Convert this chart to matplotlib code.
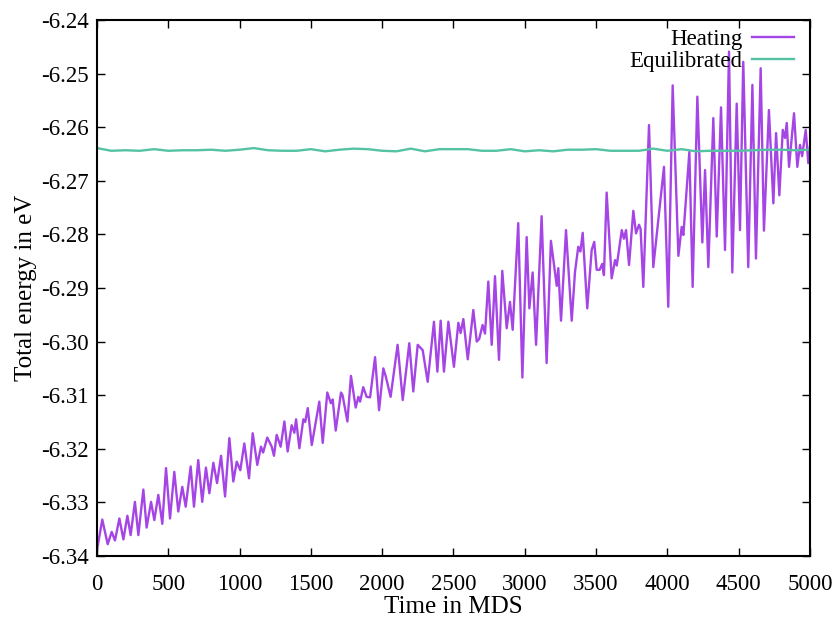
import matplotlib
matplotlib.use("Agg")
import matplotlib.pyplot as plt
from matplotlib.ticker import FormatStrFormatter, MultipleLocator

plt.rcParams['font.family'] = ['Liberation Serif', 'DejaVu Serif']
plt.rcParams['axes.unicode_minus'] = False

heat_t = [0, 37, 75, 103, 126, 157, 185, 213, 236, 266, 290, 325, 348, 379, 402, 430, 458, 484, 512, 542,
          570, 598, 622, 657, 680, 710, 738, 764, 788, 816, 842, 870, 898, 928, 956, 980, 1005, 1033, 1066, 1092,
          1124, 1150, 1165, 1194, 1225, 1241, 1260, 1288, 1314, 1337, 1365, 1384, 1396, 1419, 1447, 1460, 1478, 1506, 1559, 1583,
          1615, 1640, 1653, 1674, 1711, 1722, 1756, 1781, 1814, 1833, 1845, 1867, 1891, 1915, 1950, 1978, 2008, 2025, 2059, 2108,
          2144, 2190, 2218, 2249, 2284, 2319, 2363, 2387, 2410, 2433, 2464, 2503, 2534, 2550, 2569, 2600, 2639, 2663, 2680, 2704,
          2721, 2744, 2768, 2791, 2819, 2842, 2873, 2896, 2915, 2954, 2983, 3013, 3032, 3055, 3079, 3118, 3153, 3183, 3224, 3235,
          3254, 3289, 3329, 3352, 3375, 3390, 3406, 3438, 3469, 3487, 3504, 3525, 3543, 3555, 3574, 3609, 3633, 3645, 3680, 3695,
          3710, 3731, 3761, 3780, 3801, 3812, 3831, 3871, 3901, 3976, 4006, 4037, 4077, 4100, 4112, 4154, 4177, 4210, 4245, 4264,
          4287, 4322, 4346, 4376, 4404, 4432, 4455, 4486, 4509, 4532, 4567, 4596, 4621, 4654, 4677, 4712, 4743, 4762, 4785, 4809,
          4825, 4837, 4853, 4888, 4911, 4930, 4945, 4970, 4988, 5000]
heat_v = [-6.3389, -6.3332, -6.3378, -6.3355, -6.3371, -6.3330, -6.3369, -6.3325, -6.3361, -6.3299, -6.3361, -6.3276, -6.3347, -6.3299, -6.3333, -6.3286, -6.3340, -6.3236, -6.3330, -6.3243,
          -6.3317, -6.3271, -6.3308, -6.3233, -6.3308, -6.3221, -6.3299, -6.3235, -6.3283, -6.3226, -6.3264, -6.3213, -6.3289, -6.3180, -6.3261, -6.3224, -6.3240, -6.3190, -6.3255, -6.3171,
          -6.3230, -6.3196, -6.3207, -6.3179, -6.3196, -6.3213, -6.3174, -6.3196, -6.3149, -6.3205, -6.3156, -6.3170, -6.3145, -6.3199, -6.3145, -6.3150, -6.3124, -6.3193, -6.3112, -6.3189,
          -6.3095, -6.3115, -6.3108, -6.3166, -6.3095, -6.3100, -6.3149, -6.3064, -6.3123, -6.3103, -6.3112, -6.3085, -6.3103, -6.3104, -6.3029, -6.3128, -6.3050, -6.3065, -6.3103, -6.3006,
          -6.3109, -6.3003, -6.3093, -6.3006, -6.3016, -6.3075, -6.2963, -6.3056, -6.2961, -6.3056, -6.2963, -6.3047, -6.2965, -6.2984, -6.2958, -6.3033, -6.2941, -6.3000, -6.2995, -6.2969,
          -6.2985, -6.2888, -6.3006, -6.2878, -6.3034, -6.2868, -6.2975, -6.2926, -6.2978, -6.2779, -6.3067, -6.2805, -6.2938, -6.2871, -6.3006, -6.2766, -6.3040, -6.2812, -6.2896, -6.2863,
          -6.2961, -6.2792, -6.2961, -6.2870, -6.2823, -6.2832, -6.2797, -6.2938, -6.2829, -6.2814, -6.2866, -6.2866, -6.2855, -6.2876, -6.2722, -6.2882, -6.2848, -6.2858, -6.2792, -6.2808,
          -6.2792, -6.2857, -6.2756, -6.2798, -6.2782, -6.2790, -6.2898, -6.2596, -6.2861, -6.2674, -6.2935, -6.2522, -6.2840, -6.2786, -6.2801, -6.2646, -6.2898, -6.2543, -6.2815, -6.2680,
          -6.2861, -6.2583, -6.2804, -6.2563, -6.2829, -6.2459, -6.2871, -6.2556, -6.2792, -6.2478, -6.2861, -6.2521, -6.2845, -6.2490, -6.2793, -6.2568, -6.2742, -6.2611, -6.2727, -6.2605,
          -6.2620, -6.2592, -6.2674, -6.2574, -6.2674, -6.2633, -6.2654, -6.2605, -6.2667, -6.2636]

eq_t = list(range(0, 5001, 100))
eq_v = [-6.2639, -6.2644, -6.2643, -6.2644, -6.2641, -6.2644, -6.2643, -6.2643, -6.2642, -6.2644,
        -6.2642, -6.2639, -6.2643, -6.2644, -6.2644, -6.2641, -6.2645, -6.2642, -6.2640, -6.2641,
        -6.2644, -6.2645, -6.2640, -6.2645, -6.2641, -6.2641, -6.2641, -6.2644, -6.2644, -6.2641,
        -6.2645, -6.2643, -6.2645, -6.2642, -6.2642, -6.2641, -6.2644, -6.2644, -6.2644, -6.2640,
        -6.2644, -6.2641, -6.2645, -6.2644, -6.2644, -6.2644, -6.2643, -6.2642, -6.2642, -6.2643,
        -6.2642]

fig = plt.figure(figsize=(8.37, 6.2), dpi=100)
ax = fig.add_axes([97/837, 1-556/620, (810-97)/837, (556-20)/620])

ax.plot(heat_t, heat_v, color='#a545e5', lw=1.7, label='Heating')
ax.plot(eq_t, eq_v, color='#55c3a3', lw=1.7, label='Equilibrated')

ax.set_xlim(0, 5000)
ax.set_ylim(-6.34, -6.24)
ax.xaxis.set_major_locator(MultipleLocator(500))
ax.yaxis.set_major_locator(MultipleLocator(0.01))
ax.yaxis.set_major_formatter(FormatStrFormatter('%.2f'))
ax.tick_params(direction='in', length=6, width=1, top=True, right=True, labelsize=16.5)
ax.tick_params(axis='x', pad=13)
ax.tick_params(axis='y', pad=6)
for s in ax.spines.values():
    s.set_linewidth(1.5)

ax.set_xlabel('Time in MDS', fontsize=18, labelpad=1)
ax.set_ylabel('Total energy in eV', fontsize=18, labelpad=3)

leg = ax.legend(loc='upper right', frameon=False, markerfirst=False, fontsize=16.5,
                handlelength=1.8, handletextpad=0.45, labelspacing=0.05,
                borderaxespad=0.0, borderpad=0.4, bbox_to_anchor=(0.99, 1.0))

fig.savefig('out.png', dpi=100)
